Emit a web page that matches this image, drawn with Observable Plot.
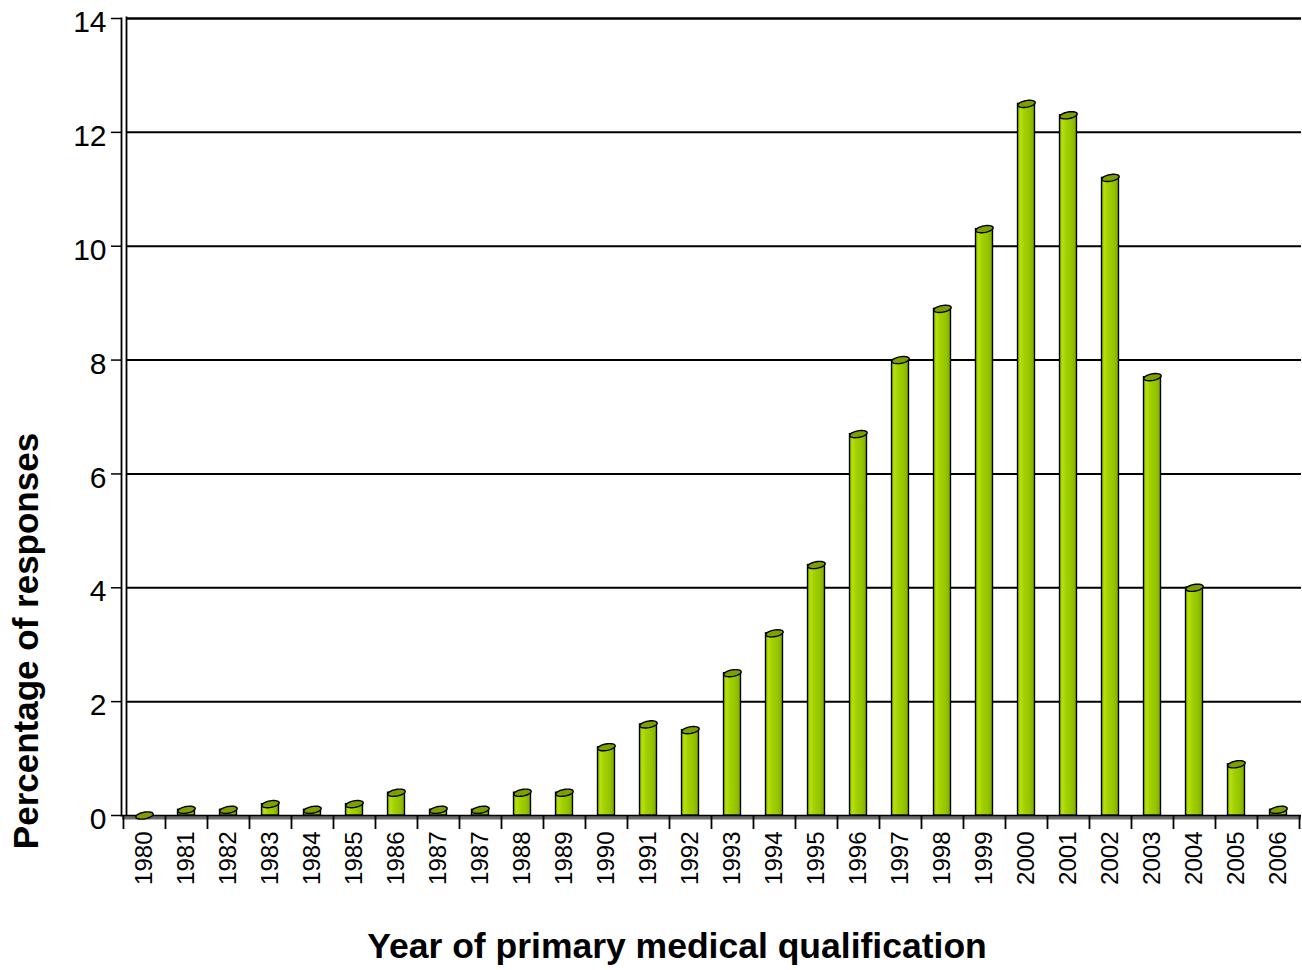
<!DOCTYPE html>
<html>
<head>
<meta charset="utf-8">
<script src="https://cdn.jsdelivr.net/npm/d3@7"></script>
<script src="https://cdn.jsdelivr.net/npm/@observablehq/plot@0.6"></script>
<style>
  html, body { margin: 0; padding: 0; background: #fff; }
  #chart svg { display: block; }
</style>
</head>
<body>
<div id="chart"></div>
<script>
// Data
const yearLabels = ["1980","1981","1982","1983","1984","1985","1986","1987","1987","1988","1989",
  "1990","1991","1992","1993","1994","1995","1996","1997","1998","1999",
  "2000","2001","2002","2003","2004","2005","2006"];
const percentValues = [0, 0.1, 0.1, 0.2, 0.1, 0.2, 0.4, 0.1, 0.1, 0.4, 0.4,
  1.2, 1.6, 1.5, 2.5, 3.2, 4.4, 6.7, 8.0, 8.9, 10.3,
  12.5, 12.3, 11.2, 7.7, 4.0, 0.9, 0.1];
const yTicks = [0, 2, 4, 6, 8, 10, 12, 14];
const xTitle = "Year of primary medical qualification";
const yTitle = "Percentage of responses";

const data = yearLabels.map((label, i) => ({i, label, value: percentValues[i]}));
const idx = d3.range(yearLabels.length);

const W = 1302, H = 970;
const mL = 122, mR = 3, mT = 18, mB = 155;
const bw = (W - mL - mR) / yearLabels.length;

// tilted ellipse symbol for the cylinder caps
const capSymbol = {
  draw(ctx) {
    const rx = 8.8, ry = 3.3, a = -0.18, n = 36;
    for (let k = 0; k <= n; k++) {
      const t = 2 * Math.PI * k / n;
      const px = rx * Math.cos(t), py = ry * Math.sin(t);
      const x = px * Math.cos(a) - py * Math.sin(a);
      const y = px * Math.sin(a) + py * Math.cos(a);
      if (k === 0) ctx.moveTo(x, y); else ctx.lineTo(x, y);
    }
    ctx.closePath();
  }
};

const plot = Plot.plot({
  width: W,
  height: H,
  marginLeft: mL,
  marginRight: mR,
  marginTop: mT,
  marginBottom: mB,
  style: {fontFamily: "Arial, 'Liberation Sans', sans-serif", background: "#fff", color: "#000"},
  x: {type: "band", domain: idx, padding: 0},
  y: {domain: [0, 14]},
  marks: [
    // gridlines
    Plot.ruleY(yTicks.filter(d => d > 0 && d < 14), {stroke: "#000", strokeWidth: 2, insetLeft: 4, insetRight: -2}),
    // top edge
    Plot.ruleY([14], {stroke: "#000", strokeWidth: 2.4, insetLeft: 4, insetRight: -2}),
    // back wall double line
    Plot.frame({anchor: "left", stroke: "#000", strokeWidth: 1.8, dx: -1}),
    Plot.frame({anchor: "left", stroke: "#000", strokeWidth: 1.8, dx: 4, insetTop: -1}),
    // floor
    Plot.ruleY([0], {stroke: "#6b6b6b", strokeWidth: 4, dy: 2, insetLeft: 0, insetRight: -2}),
    Plot.ruleY([0], {stroke: "#000", strokeWidth: 1.4, insetLeft: 0, insetRight: -2}),
    // x tick marks at band boundaries
    Plot.ruleX(idx, {x: d => d, dx: -bw / 2, y1: 0, y2: 0, insetBottom: -14, stroke: "#000", strokeWidth: 1.8}),
    Plot.ruleX([idx[idx.length - 1]], {x: d => d, dx: bw / 2, y1: 0, y2: 0, insetBottom: -14, stroke: "#000", strokeWidth: 1.8}),
    // bars (cylinders)
    Plot.barY(data, {x: "i", y: "value", fill: "url(#cyl)", stroke: "#000", strokeWidth: 1.4,
      insetLeft: (bw - 17) / 2, insetRight: (bw - 17) / 2}),
    Plot.dot(data, {x: "i", y: "value", symbol: capSymbol, fill: "#7d9f00", stroke: "#000", strokeWidth: 1.4}),
    // y axis: tick marks, then labels nudged slightly below the gridlines
    Plot.axisY({ticks: yTicks, tickSize: 11, tickFormat: () => "", label: null, strokeWidth: 1.5}),
    Plot.axisY({ticks: yTicks, tickSize: 0, tickPadding: 16, dy: 4, fontSize: 30, label: null, tickFormat: d => d}),
    // x axis labels
    Plot.axisX({tickSize: 0, tickPadding: 16, tickRotate: -90, fontSize: 24, label: null,
      tickFormat: i => yearLabels[i]}),
    // titles
    Plot.text([xTitle], {frameAnchor: "bottom", textAnchor: "middle", dx: -34, dy: 142, fontSize: 35.5, fontWeight: "bold", fill: "#000"}),
    Plot.text([yTitle], {frameAnchor: "left", textAnchor: "middle", rotate: -90, dx: -96, dy: 224, fontSize: 35, fontWeight: "bold", fill: "#000"})
  ]
});

// gradient for cylinder shading
const ns = "http://www.w3.org/2000/svg";
const defs = document.createElementNS(ns, "defs");
const grad = document.createElementNS(ns, "linearGradient");
grad.setAttribute("id", "cyl");
grad.setAttribute("x1", "0"); grad.setAttribute("x2", "1");
grad.setAttribute("y1", "0"); grad.setAttribute("y2", "0");
[["0%", "#8cbc00"], ["18%", "#b4df10"], ["40%", "#a3d000"], ["75%", "#93c300"], ["100%", "#7ea800"]].forEach(([o, c]) => {
  const s = document.createElementNS(ns, "stop");
  s.setAttribute("offset", o); s.setAttribute("stop-color", c);
  grad.appendChild(s);
});
defs.appendChild(grad);
plot.insertBefore(defs, plot.firstChild);

document.getElementById("chart").appendChild(plot);
</script>
</body>
</html>
